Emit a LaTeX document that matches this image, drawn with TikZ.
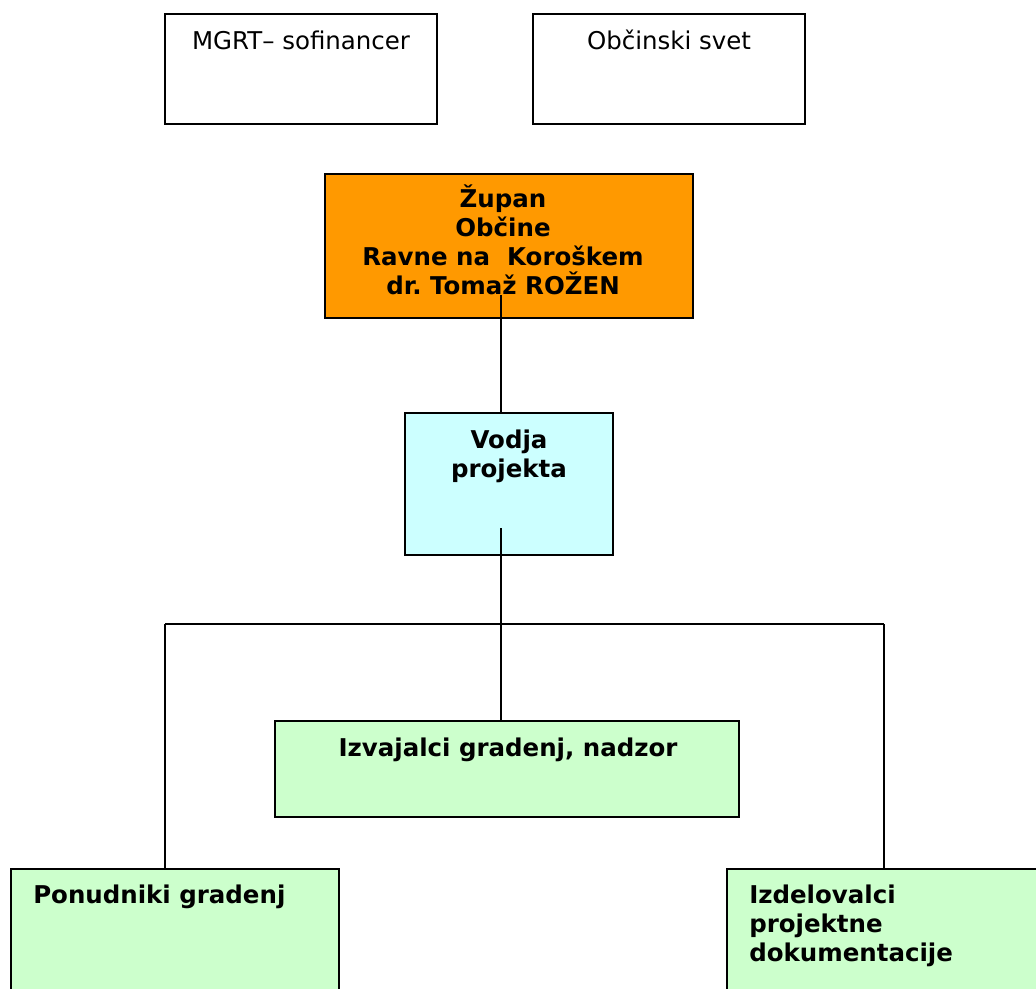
\documentclass[tikz,border=0pt]{standalone}
\usepackage{fontspec}
\setmainfont{DejaVu Sans}
\frenchspacing
\definecolor{zupan-orange}{HTML}{FF9900}
\definecolor{vodja-cyan}{HTML}{CCFFFF}
\definecolor{izv-green}{HTML}{CCFFCC}

\begin{document}
\begin{tikzpicture}[x=0.025cm, y=-0.025cm,
        every node/.style={font=\fontsize{17.4}{20.6}\selectfont},
        box/.style={draw=black, line width=1.2pt, inner sep=0pt},
        txt/.style={anchor=base, align=center, inner sep=0pt},
        txtl/.style={anchor=base west, align=left, inner sep=0pt},
        link/.style={line width=0.9pt}]
      \path[use as bounding box, clip] (0,0) rectangle (1036,988);
      % top row
      \node[box, fill=white, minimum width=6.8cm, minimum height=2.75cm] (MGRT) at (301,69) {};
      \node[box, fill=white, minimum width=6.8cm, minimum height=2.75cm] (SVET) at (669,69) {};
      \node[txt] (MGRT-t) at (301,49) {MGRT– sofinancer};
      \node[txt] (SVET-t) at (669,49) {Občinski svet};
      % mayor and project leader (base = last line)
      \node[box, fill=zupan-orange, minimum width=9.2cm, minimum height=3.6cm] (ZUP) at (509,246) {};
      \node[txt, font=\fontsize{17.4}{20.6}\selectfont\bfseries] (ZUP-t) at (503,294) {Župan\\Občine\\Ravne na\ \ Koroškem\\dr. Tomaž ROŽEN};
      \node[box, fill=vodja-cyan, minimum width=5.2cm, minimum height=3.55cm] (VOD) at (509,484) {};
      \node[txt, font=\fontsize{17.4}{20.6}\selectfont\bfseries] (VOD-t) at (509,477) {Vodja\\projekta};
      % contractors
      \node[box, fill=izv-green, minimum width=11.6cm, minimum height=2.4cm] (IZV) at (507,769) {};
      \node[txt, font=\fontsize{17.4}{20.6}\selectfont\bfseries] (IZV-t) at (508,756) {Izvajalci gradenj, nadzor};
      \node[box, fill=izv-green, minimum width=8.2cm, minimum height=3.75cm] (PON) at (175,944) {};
      \node[txtl, font=\fontsize{17.4}{20.6}\selectfont\bfseries] (PON-t) at (33,903) {Ponudniki gradenj};
      \node[box, fill=izv-green, minimum width=8.25cm, minimum height=3.75cm] (IZD) at (892,944) {};
      \node[txtl, font=\fontsize{17.4}{20.6}\selectfont\bfseries] (IZD-t) at (749,961) {Izdelovalci\\projektne\\dokumentacije};
      % connectors
      \coordinate (z-out) at (501,295);
      \coordinate (v-out) at (501,528);
      \coordinate (left-end) at (165,624);
      \coordinate (right-end) at (884,624);
      \draw[link] (z-out) -- (z-out |- VOD.north);
      \draw[link] (v-out) -- (v-out |- IZV.north);
      \draw[link] (left-end) -- (right-end);
      \draw[link] (left-end) -- (left-end |- PON.north);
      \draw[link] (right-end) -- (right-end |- IZD.north);
    \end{tikzpicture}
\end{document}
